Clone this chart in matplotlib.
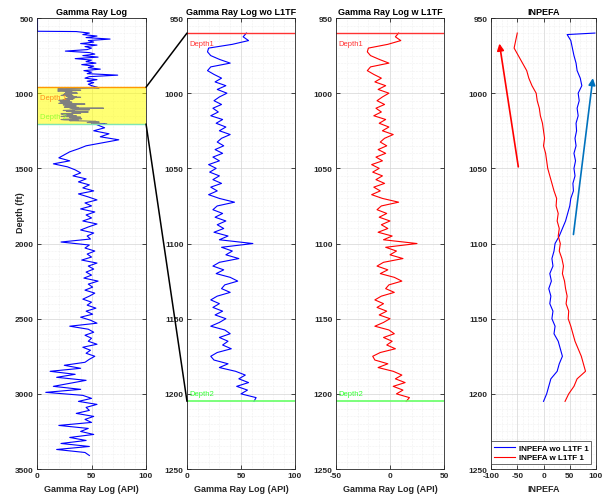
import matplotlib
matplotlib.use("Agg")
import matplotlib.pyplot as plt
import numpy as np
from matplotlib.patches import ConnectionPatch
from matplotlib.ticker import MultipleLocator

plt.rcParams['font.family'] = ['Liberation Sans', 'DejaVu Sans']
plt.rcParams['axes.unicode_minus'] = False

# ---- data ----
depth1, depth2 = 960, 1205

# full log, upper blue part (590..950 every 10 ft), preceded by the zero stretch
gr_head_depth = [500, 588]
gr_head_val = [0, 0]
gr_up_val = [36, 48, 42, 55, 45, 67, 47, 52, 40, 55, 44, 50, 46, 26, 48, 53, 42, 56, 35,
             50, 45, 54, 41, 52, 47, 58, 43, 50, 46, 74, 48, 44, 55, 46, 52, 47, 50]
# full log, lower blue part (1210..3410 every 20 ft)
gr_low_val = [55, 62, 52, 66, 58, 75, 60, 45, 38, 30,
              25, 20, 30, 15, 28, 35, 40, 33, 45, 38,
              48, 42, 52, 38, 47, 55, 44, 50, 40, 53,
              45, 50, 42, 55, 47, 40, 52, 46, 49, 22,
              48, 44, 53, 46, 50, 41, 55, 47, 52, 45,
              50, 43, 56, 47, 51, 44, 53, 48, 42, 50,
              46, 54, 45, 51, 40, 49, 55, 30, 47, 52,
              44, 50, 47, 55, 42, 49, 45, 53, 48, 44,
              25, 40, 12, 35, 18, 45, 30, 15, 40, 8,
              42, 50, 38, 55, 45, 48, 36, 52, 44, 50,
              20, 47, 40, 52, 30, 45, 22, 48, 18, 44, 48]

# zoomed interval 960..1205 every 2.5 ft
gr_wo = [55, 52, 57, 42, 20, 19, 22, 30, 40, 22, 19, 25, 32, 26, 36, 28, 37, 30, 25, 32,
         24, 29, 22, 33, 27, 36, 30, 40, 32, 28, 34, 26, 33, 24, 30, 20, 27, 21, 30, 24,
         32, 22, 28, 20, 30, 44, 28, 24, 33, 26, 36, 28, 34, 25, 38, 30, 61, 32, 42, 36,
         48, 30, 24, 34, 27, 40, 47, 35, 32, 40, 28, 22, 30, 24, 33, 26, 36, 30, 22, 35,
         40, 30, 38, 33, 41, 28, 22, 25, 38, 30, 45, 54, 48, 57, 46, 56, 50, 64, 62]
gr_w = [8, 5, 10, -2, -20, -21, -18, -10, -1, -18, -21, -15, -8, -14, -4, -11, -1, -7, -12, -5,
        -13, -8, -15, -4, -10, -1, -7, 3, -5, -9, -3, -11, -4, -13, -7, -17, -10, -16, -7, -13,
        -5, -15, -9, -17, -7, 8, -8, -12, -3, -10, 0, -8, -2, -11, 2, -6, 25, -4, 6, 0,
        12, -6, -12, -2, -9, 4, 11, -1, -4, 4, -8, -14, -6, -12, -3, -10, 0, -6, -14, -1,
        4, -6, 2, -3, 5, -9, -16, -14, -2, -11, 3, 11, 5, 14, 3, 12, 6, 18, 15]

# INPEFA curves
inpefa_wo_depth = [960, 961] + list(range(965, 1206, 5))
inpefa_wo = [98, 45, 52, 55, 58, 62, 64, 70, 73, 66, 68, 64, 66, 62, 63, 60, 62, 58, 61, 58,
             60, 56, 57, 52, 50, 46, 42, 36, 30, 22, 20, 16, 18, 12, 15, 10, 14, 12, 18, 16,
             22, 20, 28, 32, 36, 30, 26, 14, 10, 6, 0]
inpefa_w_depth = list(range(960, 1206, 5))
inpefa_w = [-50, -53, -56, -48, -40, -32, -28, -22, -14, -12, -8, -6, -2, 0, 2, 0, 4, 6, 8, 12,
            16, 20, 25, 24, 28, 26, 30, 28, 32, 30, 35, 38, 36, 40, 42, 45, 43, 48, 47, 52,
            56, 60, 66, 72, 76, 80, 64, 58, 48, 41]

# trend arrows (tail x, tail depth, head x, head depth)
arrow_red = (-48, 1049, -84, 967)
arrow_blue = (57, 1094, 94, 990)

# ---- derived depth grids ----
gr_up_depth = np.arange(590, 951, 10)
gr_low_depth = np.arange(1210, 3411, 20)
zoom_depth = depth1 + 2.5 * np.arange(len(gr_wo))

fig = plt.figure(figsize=(6.03, 5.02), dpi=100)
bottom, height = 0.0637, 0.8984
ax1 = fig.add_axes([0.0614, bottom, 0.1808, height])
ax2 = fig.add_axes([0.3101, bottom, 0.1791, height])
ax3 = fig.add_axes([0.5572, bottom, 0.1791, height])
ax4 = fig.add_axes([0.8143, bottom, 0.1741, height])

TXT = '#262626'


def style(ax, xlim, ylim, xmaj, ymaj, xmin, ymin, title, xlabel):
    ax.set_xlim(*xlim)
    ax.set_ylim(*ylim)
    ax.xaxis.set_major_locator(MultipleLocator(xmaj))
    ax.yaxis.set_major_locator(MultipleLocator(ymaj))
    ax.xaxis.set_minor_locator(MultipleLocator(xmin))
    ax.yaxis.set_minor_locator(MultipleLocator(ymin))
    ax.grid(True, which='major', color='#d4d4d4', lw=0.5)
    ax.grid(True, which='minor', color='#e4e4e4', lw=0.4, ls=':')
    ax.set_axisbelow(True)
    ax.tick_params(which='both', direction='in', top=True, right=True,
                   labelsize=6, colors=TXT, width=0.6)
    ax.tick_params(which='major', length=3, pad=2.5)
    ax.tick_params(which='minor', length=0)
    for lab in ax.get_xticklabels() + ax.get_yticklabels():
        lab.set_fontweight('bold')
    for s in ax.spines.values():
        s.set_color(TXT)
        s.set_linewidth(0.6)
    ax.set_title(title, fontsize=6.5, fontweight='bold', pad=3)
    ax.set_xlabel(xlabel, fontsize=6.5, fontweight='bold', color=TXT, labelpad=3)


# panel 1: full log
ax1.axhspan(depth1, depth2, color='yellow', alpha=0.55, lw=0)
ax1.plot(gr_head_val, gr_head_depth, color='blue', lw=0.8)
ax1.plot([0] + gr_up_val, [588] + list(gr_up_depth), color='blue', lw=0.8)
ax1.plot([gr_up_val[-1]] + gr_wo[:1], [950, depth1], color='blue', lw=0.8)
ax1.plot(gr_wo, zoom_depth, color='#808080', lw=0.8)
ax1.plot(gr_wo[-1:] + gr_low_val, [depth2] + list(gr_low_depth), color='blue', lw=0.8)
ax1.axhline(depth1, color='#ff9900', lw=1)
ax1.axhline(depth2, color='#80e6b3', lw=1)
ax1.text(3, 1028, 'Depth 1', color='#ff8c1a', fontsize=5.5, va='center')
ax1.text(3, 1154, 'Depth 2', color='#99ff33', fontsize=5.5, va='center')
style(ax1, (0, 100), (3500, 500), 50, 500, 10, 50, 'Gamma Ray Log', 'Gamma Ray Log (API)')
ax1.set_ylabel('Depth (ft)', fontsize=6.5, fontweight='bold', color=TXT)
ax1.yaxis.set_label_coords(-0.11, 0.57)

# panel 2: without L1TF
ax2.plot(gr_wo, zoom_depth, color='blue', lw=0.8)
ax2.axhline(depth1, color='#ff3333', lw=1)
ax2.axhline(depth2, color='#66ff66', lw=1.2)
ax2.text(2, 967, 'Depth1', color='#ff3333', fontsize=5.5, va='center')
ax2.text(2, 1200, 'Depth2', color='#33ff33', fontsize=5.5, va='center')
style(ax2, (0, 100), (1250, 950), 50, 50, 10, 5, 'Gamma Ray Log wo L1TF', 'Gamma Ray Log (API)')

# panel 3: with L1TF
ax3.plot(gr_w, zoom_depth, color='red', lw=0.8)
ax3.axhline(depth1, color='#ff3333', lw=1)
ax3.axhline(depth2, color='#66ff66', lw=1.2)
ax3.text(-48, 967, 'Depth1', color='#ff3333', fontsize=5.5, va='center')
ax3.text(-48, 1200, 'Depth2', color='#33ff33', fontsize=5.5, va='center')
style(ax3, (-50, 50), (1250, 950), 50, 50, 10, 5, 'Gamma Ray Log w L1TF', 'Gamma Ray Log (API)')

# panel 4: INPEFA
ax4.plot(inpefa_wo, inpefa_wo_depth, color='blue', lw=0.8, label='INPEFA wo L1TF 1')
ax4.plot(inpefa_w, inpefa_w_depth, color='red', lw=0.8, label='INPEFA w L1TF 1')
for (x0, y0, x1, y1), col in [(arrow_red, 'red'), (arrow_blue, '#0072bd')]:
    ax4.annotate('', xy=(x1, y1), xytext=(x0, y0),
                 arrowprops=dict(arrowstyle='-|>', color=col, lw=1.2,
                                 mutation_scale=10, shrinkA=0, shrinkB=0))
style(ax4, (-100, 100), (1250, 950), 50, 50, 10, 5, 'INPEFA', 'INPEFA')
leg = ax4.legend(loc='lower right', fontsize=5.8, frameon=True, fancybox=False,
                 edgecolor=TXT, borderpad=0.35, handlelength=2.6, handletextpad=0.5,
                 labelspacing=0.25, borderaxespad=0.6)
for t in leg.get_texts():
    t.set_fontweight('bold')
leg.get_frame().set_linewidth(0.6)

# zoom connectors
for d in (depth1, depth2):
    con = ConnectionPatch(xyA=(100, d), coordsA=ax1.transData,
                          xyB=(0, d), coordsB=ax2.transData,
                          color='black', lw=1.1)
    fig.add_artist(con)

fig.savefig('out.png', dpi=100)
